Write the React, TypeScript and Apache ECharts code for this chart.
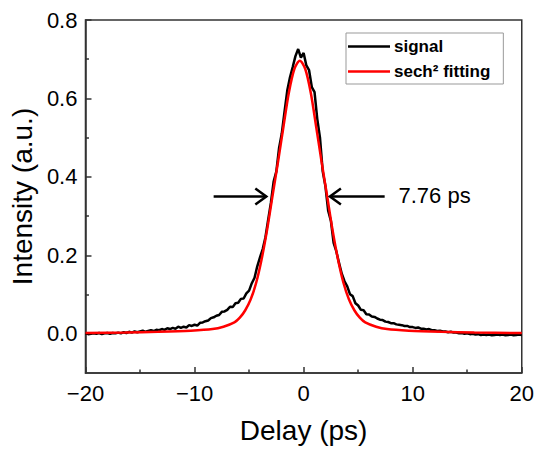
import React, { useEffect, useRef } from "react";
import * as echarts from "echarts";

// Sampling grid of the measured trace (ps)
const delayStart = -20;
const delayStep = 0.25;

// Measured autocorrelation signal, one value per 0.25 ps from -20 to 20 ps
const signalValues = [
  0.001, -0.001, 0.000, 0.001,
  0.000, 0.002, -0.001, 0.001,
  0.002, 0.000, 0.002, 0.001,
  0.003, 0.001, 0.004, 0.002,
  0.005, 0.003, 0.006, 0.004,
  0.006, 0.008, 0.005, 0.007,
  0.009, 0.007, 0.010, 0.009,
  0.012, 0.010, 0.014, 0.012,
  0.015, 0.013, 0.018, 0.015,
  0.018, 0.016, 0.022, 0.020,
  0.023, 0.021, 0.028, 0.029,
  0.032, 0.034, 0.040, 0.042,
  0.046, 0.048, 0.056, 0.057,
  0.061, 0.069, 0.068, 0.078,
  0.079, 0.089, 0.090, 0.103,
  0.110, 0.129, 0.143, 0.172,
  0.195, 0.216, 0.246, 0.291,
  0.334, 0.388, 0.414, 0.474,
  0.511, 0.566, 0.620, 0.654,
  0.680, 0.708, 0.726, 0.704,
  0.716, 0.684, 0.672, 0.629,
  0.616, 0.548, 0.500, 0.414,
  0.376, 0.314, 0.288, 0.232,
  0.210, 0.180, 0.153, 0.134,
  0.121, 0.101, 0.096, 0.078,
  0.072, 0.061, 0.060, 0.050,
  0.049, 0.044, 0.043, 0.039,
  0.036, 0.035, 0.031, 0.030,
  0.027, 0.027, 0.024, 0.023,
  0.022, 0.020, 0.020, 0.017,
  0.017, 0.015, 0.016, 0.013,
  0.013, 0.011, 0.012, 0.009,
  0.009, 0.007, 0.008, 0.006,
  0.006, 0.004, 0.005, 0.003,
  0.003, 0.001, 0.002, 0.000,
  0.001, -0.001, 0.000, -0.002,
  -0.001, -0.003, -0.002, -0.003,
  -0.002, -0.004, -0.003, -0.002,
  -0.003, -0.002, -0.004, -0.003,
  -0.002, -0.004, -0.003, -0.002,
  -0.003,
];

// sech^2 fit curve
const fitDelay = [
  -20, -16.35, -13.35, -10.35, -8.35, -7.35, -6.35, -5.85, -5.35, -4.85,
  -4.35, -3.85, -3.35, -2.85, -2.35, -1.85, -1.35, -0.85, -0.35,
  0.15, 0.65, 1.15, 1.65, 2.15, 2.65, 3.15, 3.65, 4.15, 4.65,
  5.15, 5.65, 6.65, 7.65, 9.65, 12.65, 15.65, 20,
];
const fitValues = [
  0.002, 0.003, 0.005, 0.008, 0.012, 0.018, 0.029, 0.041, 0.06, 0.088,
  0.13, 0.19, 0.265, 0.352, 0.438, 0.528, 0.615, 0.675, 0.696,
  0.675, 0.615, 0.528, 0.438, 0.352, 0.265, 0.19, 0.13, 0.088,
  0.06, 0.041, 0.029, 0.018, 0.012, 0.008, 0.005, 0.003, 0.002,
];

const xTicks = [-20, -10, 0, 10, 20];
const yMajorTicks = [0, 0.2, 0.4, 0.6, 0.8];
const yMinorTicks = [0.1, 0.3, 0.5, 0.7];

// FWHM annotation
const fwhmLevel = 0.35;
const leftArrow = [-8.25, -3.42];
const rightArrow = [7.43, 2.41];
const fwhmLabel = "7.76 ps";
const fwhmLabelDelay = 8.7;

const FONT = "'Liberation Sans', Arial, sans-serif";

export default function App() {
  const ref = useRef<HTMLDivElement>(null);
  useEffect(() => {
    if (!ref.current) return;
    const chart = echarts.init(ref.current, null, { renderer: "svg" });
    const signalData = signalValues.map((v, i) => [delayStart + i * delayStep, v]);
    const fitData = fitDelay.map((x, i) => [x, fitValues[i]]);
    const axisColor = "#333";
    chart.setOption({
      animation: false,
      textStyle: { fontFamily: FONT },
      grid: {
        left: 84, right: 15, top: 20, bottom: 78,
        show: true, borderColor: axisColor, borderWidth: 1.5,
      },
      legend: {
        data: ["signal", "sech² fitting"],
        orient: "vertical",
        left: 346, top: 33,
        borderColor: "#999", borderWidth: 1,
        padding: [5, 13, 4, 2],
        icon: "rect",
        itemWidth: 42, itemHeight: 2.5, itemGap: 8,
        textStyle: { fontFamily: FONT, fontSize: 17, fontWeight: "bold", color: "#000", padding: [0, 0, 0, -1] },
      },
      xAxis: {
        type: "value", min: -20, max: 20, interval: 10,
        axisLine: { show: true, onZero: false, lineStyle: { color: axisColor, width: 1.5 } },
        axisTick: { show: true, inside: true, length: 6, customValues: xTicks, lineStyle: { color: axisColor, width: 1.5 } },
        minorTick: { show: true, splitNumber: 2, length: 3.5, lineStyle: { color: axisColor, width: 1.5 } },
        splitLine: { show: false },
        axisLabel: {
          customValues: xTicks,
          fontFamily: FONT, fontSize: 22, color: "#000", margin: 9,
          formatter: (v: number) => (v < 0 ? "\u2212" + Math.abs(v) : String(v)),
        },
        name: "Delay (ps)", nameLocation: "middle", nameGap: 43,
        nameTextStyle: { fontFamily: FONT, fontSize: 28, color: "#000" },
      },
      yAxis: [
        {
          type: "value", min: -0.1, max: 0.8, interval: 0.1,
          axisLine: { show: true, onZero: false, lineStyle: { color: axisColor, width: 1.5 } },
          axisTick: { show: true, inside: true, length: 6, customValues: yMajorTicks, lineStyle: { color: axisColor, width: 1.5 } },
          splitLine: { show: false },
          axisLabel: {
            customValues: yMajorTicks,
            fontFamily: FONT, fontSize: 22, color: "#000", margin: 8,
            formatter: (v: number) => v.toFixed(1),
          },
          name: "Intensity (a.u.)", nameLocation: "middle", nameGap: 38, nameRotate: 90,
          nameTextStyle: { fontFamily: FONT, fontSize: 28, color: "#000" },
        },
        {
          type: "value", min: -0.1, max: 0.8, interval: 0.1, position: "left",
          axisLine: { show: false, onZero: false },
          axisTick: { show: true, inside: true, length: 3.5, customValues: yMinorTicks, lineStyle: { color: axisColor, width: 1.5 } },
          axisLabel: { show: false },
          splitLine: { show: false },
        },
      ],
      series: [
        {
          name: "signal", type: "line", data: signalData, symbol: "none",
          lineStyle: { color: "#000", width: 2.5 }, itemStyle: { color: "#000" }, z: 2,
        },
        {
          name: "sech² fitting", type: "line", data: fitData, symbol: "none", smooth: 0.3,
          lineStyle: { color: "#ff0000", width: 2.5 }, itemStyle: { color: "#ff0000" }, z: 3,
        },
      ],
    });

    const p = (x: number, y: number) => chart.convertToPixel({ gridIndex: 0 }, [x, y]) as number[];
    const arrow = (from: number, to: number) => {
      const a = p(from, fwhmLevel);
      const b = p(to, fwhmLevel);
      const dir = Math.sign(b[0] - a[0]);
      const style = { stroke: "#000", lineWidth: 2.5, fill: "none" };
      return [
        { type: "polyline", shape: { points: [a, b] }, style, z: 10 },
        {
          type: "polyline",
          shape: { points: [[b[0] - dir * 11, b[1] - 8], [b[0], b[1]], [b[0] - dir * 11, b[1] + 8]] },
          style, z: 10,
        },
      ];
    };
    const lp = p(fwhmLabelDelay, fwhmLevel);
    chart.setOption({
      graphic: [
        ...arrow(leftArrow[0], leftArrow[1]),
        ...arrow(rightArrow[0], rightArrow[1]),
        {
          type: "text", x: lp[0], y: lp[1] - 1,
          style: { text: fwhmLabel, fontFamily: FONT, fontSize: 22, fill: "#000", textVerticalAlign: "middle", textAlign: "left" },
          z: 10,
        },
      ],
    });
    return () => chart.dispose();
  }, []);
  return <div ref={ref} style={{ width: 537, height: 451, position: "absolute", left: 0, top: 0 }} />;
}
